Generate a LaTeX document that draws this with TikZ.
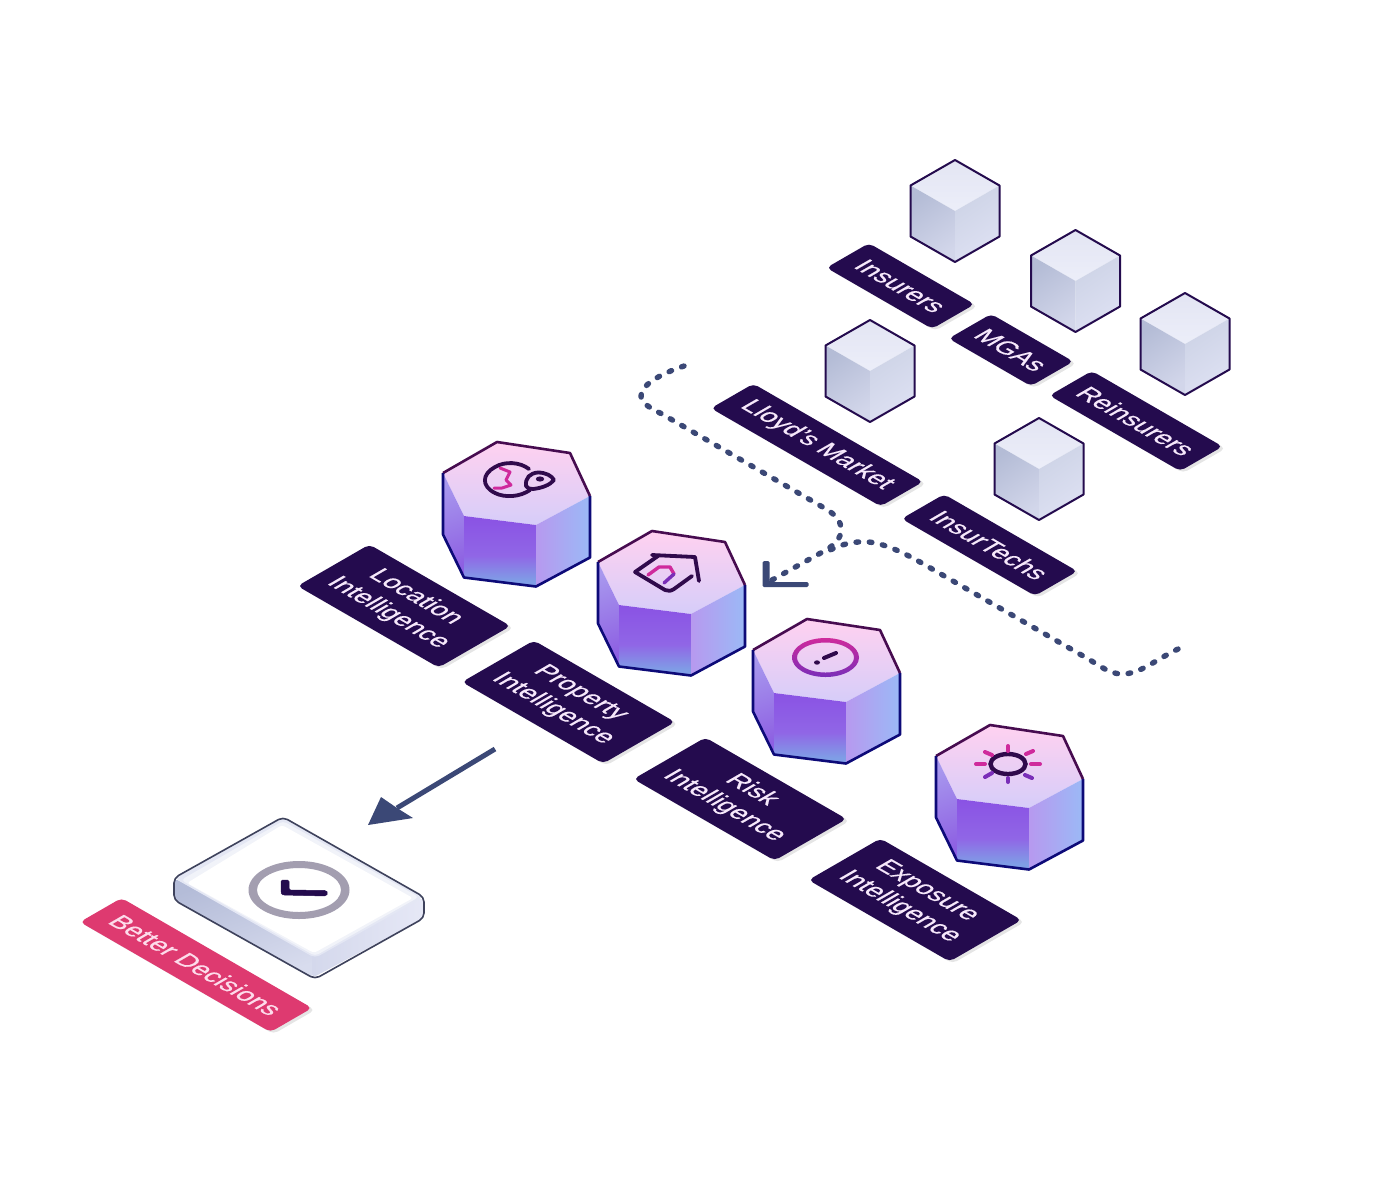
\documentclass[tikz,border=0pt]{standalone}
\usepackage{fontspec}
\setmainfont[FakeBold=0.35]{Liberation Sans}
\usetikzlibrary{arrows.meta,shadows,calc}
\definecolor{labelink}{HTML}{240B4E}
\definecolor{labeltext}{HTML}{F6E8FB}
\definecolor{flowblue}{HTML}{3B4876}
\definecolor{iconink}{HTML}{300A4C}
\definecolor{iconpink}{HTML}{CF2A9C}
\definecolor{iconviolet}{HTML}{7A2EB8}
\definecolor{decisionpink}{HTML}{DE3A70}
\definecolor{decisiontext}{HTML}{FDDCEB}
\definecolor{E1}{HTML}{E3E5F3}\definecolor{E2}{HTML}{ECEEF9}
\definecolor{L1}{HTML}{B4BCD6}\definecolor{L2}{HTML}{D2D6EA}
\definecolor{R1}{HTML}{CDD3E6}\definecolor{R2}{HTML}{DEE1F3}
\definecolor{PT1}{HTML}{FFD1F0}\definecolor{PT2}{HTML}{D6CDF9}
\definecolor{PL1}{HTML}{A898EE}\definecolor{PL2}{HTML}{8D5FE2}
\definecolor{PC1}{HTML}{8A52E4}\definecolor{PC2}{HTML}{9066E6}\definecolor{PC3}{HTML}{7F9EE6}
\definecolor{PR1}{HTML}{B799EF}\definecolor{PR2}{HTML}{9BB9F6}
\definecolor{PE1}{HTML}{470C50}\definecolor{PE2}{HTML}{0D0A78}
\definecolor{PLa}{HTML}{B4BCD8}\definecolor{PLb}{HTML}{D8DCEE}
\definecolor{PRa}{HTML}{D4D8EC}\definecolor{PRb}{HTML}{E6E8F6}
\definecolor{plateline}{HTML}{3E425C}\definecolor{plateface}{HTML}{E4E7F4}
\definecolor{clockrim}{HTML}{A39EB0}
\pgfdeclareverticalshading{prismfront}{100bp}{color(0bp)=(PC3); color(29bp)=(PC3); color(47bp)=(PC2); color(75bp)=(PC1); color(100bp)=(PC1)}
\tikzset{
  x=1pt, y=-1pt,
  isolabel/.style={
    cm={0.866,-0.5,0.866,0.5,(0,0)}, transform shape,
    rectangle, rounded corners=5pt, fill=labelink, text=labeltext,
    inner sep=0pt, align=center,
    font=\fontsize{25.8}{31.5}\selectfont,
    general shadow={shadow xshift=3pt, shadow yshift=-2pt, fill=black, opacity=.10}
  },
  oneline/.style={minimum height=49pt},
  twoline/.style={minimum width=163pt, minimum height=83pt},
  pinklabel/.style={fill=decisionpink, text=decisiontext},
  cubeline/.style={draw=labelink, line width=2pt, line join=round},
  flowdots/.style={draw=flowblue, line width=5.4pt, line cap=round, dash pattern=on 2.6pt off 10.7pt},
  iconline/.style={draw=iconink, line width=3.8pt, line cap=round, line join=round},
  ray/.style={line width=4pt, line cap=round}
}
% one line of a two-line label, nudged to sit optically centred
\newcommand{\nudged}[1]{\hspace*{-4.6pt}\raisebox{-2.3pt}{#1}}

% small white-blue cube, given by its centre
\newcommand{\stockcube}[2]{%
  \begin{scope}[shift={(#1,#2)}]
    \shade[top color=E1,bottom color=E2] (0,-51) -- (44.5,-25.5) -- (0,0) -- (-44.5,-25.5) -- cycle;
    \shade[left color=L1,right color=L2,shading angle=35] (-44.5,-25.5) -- (0,0) -- (0,51) -- (-44.5,25.5) -- cycle;
    \shade[left color=R1,right color=R2,shading angle=35] (44.5,-25.5) -- (0,0) -- (0,51) -- (44.5,25.5) -- cycle;
    \draw[cubeline] (0,-51) -- (44.5,-25.5) -- (44.5,25.5) -- (0,51) -- (-44.5,25.5) -- (-44.5,-25.5) -- cycle;
  \end{scope}}

% violet hexagonal prism, given by the top-left corner of its lid
\newcommand{\hexprism}[2]{%
  \begin{scope}[shift={(#1,#2)}]
    \shade[top color=PT1,bottom color=PT2] (0,0) -- (73,11) -- (93,54) -- (39,83) -- (-33,74) -- (-54,31) -- cycle;
    \shade[left color=PL1,right color=PL2,shading angle=20] (-54,31) -- (-33,74) -- (-33,135.5) -- (-54,92.5) -- cycle;
    \shade[shading=prismfront] (-33,74) -- (39,83) -- (39,144.5) -- (-33,135.5) -- cycle;
    \shade[left color=PR1,right color=PR2] (39,83) -- (93,54) -- (93,115.5) -- (39,144.5) -- cycle;
    \draw[draw=PE1,line width=2.6pt,line join=round] (-54,31) -- (0,0) -- (73,11) -- (93,54);
    \draw[draw=PE2,line width=2.6pt,line join=round] (93,54) -- (93,115.5) -- (39,144.5) -- (-33,135.5) -- (-54,92.5) -- (-54,31);
  \end{scope}}

\begin{document}
\begin{tikzpicture}
\useasboundingbox (0,0) rectangle (1388,1200);
\fill[white] (0,0) rectangle (1388,1200);

% participants
\stockcube{955}{211}
\stockcube{1075.5}{281}
\stockcube{1185}{344}
\stockcube{870}{371}
\stockcube{1039}{469}

\node[isolabel,oneline,minimum width=122pt] (insurers) at (900.5,286) {Insurers};
\node[isolabel,oneline,minimum width=95pt] (mgas) at (1011,350) {MGAs};
\node[isolabel,oneline,minimum width=151pt] (reinsurers) at (1136,421) {Reinsurers};
\node[isolabel,oneline,minimum width=196pt] (lloyds) at (817,445) {Lloyd's Market};
\node[isolabel,oneline,minimum width=154pt] (insurtechs) at (989.5,545) {InsurTechs};

% dotted flows merging into the open arrow head
\coordinate (flowtip) at (772,580);
\coordinate (startleft) at (684,366);
\coordinate (startright) at (1178,649);
\draw[flowdots] (startleft) .. controls (660,374) and (641,385) .. (641,396)
  .. controls (641,403) and (650,408) .. (662,414)
  -- (826,509) .. controls (838,516) and (842,524) .. (841,532)
  .. controls (839,542) and (832,546) .. (826,550) -- (flowtip);
\draw[flowdots] (startright) .. controls (1155,660) and (1140,674) .. (1122,674)
  .. controls (1110,674) and (1100,666) .. (1090,660)
  -- (920,562) .. controls (895,548) and (875,540) .. (858,542)
  .. controls (846,543) and (838,546) .. (826,552);
\fill[flowblue,rounded corners=1.5pt] (762.5,561) -- (769.5,561) -- (769.5,582) -- (808.5,582)
  -- (808.5,587) -- (762.5,587) -- cycle;

% intelligence blocks
\hexprism{497}{442}
\hexprism{652}{531}
\hexprism{807}{619}
\hexprism{990}{725}

% globe with a location pin
\draw[iconline] (529,469) .. controls (520,462) and (505,461) .. (495,467)
  .. controls (482,474) and (481,486) .. (495,493)
  .. controls (505,498) and (520,497) .. (530,490);
\draw[draw=iconpink,line width=3pt,line join=round,line cap=round]
  (500,468) -- (510,472) -- (506,480) -- (511,485) -- (502,488) -- (494,488);
\draw[iconline,fill=PT1!55!PT2] (526,486) .. controls (525,478) and (530,473) .. (538,472.5)
  .. controls (546,472.5) and (552,476) .. (554,480)
  .. controls (550,485) and (542,488) .. (533,489)
  .. controls (530,489.5) and (527,488) .. (526,486) -- cycle;
\fill[iconink] (540,479) ellipse [x radius=4.2, y radius=2.6];

% house
\draw[draw=iconpink,line width=3.4pt,line join=round,line cap=round]
  (648,575) -- (659,567) -- (670,567) -- (674,574);
\draw[draw=iconviolet,line width=3.4pt,line cap=round] (674,574) -- (664,583);
\draw[iconline] (652,555) -- (695,557) -- (699,581);
\draw[iconline] (658,556) -- (635,572) -- (665,590) .. controls (668,591.5) and (671,591) .. (674,589) -- (692,576);

% warning
\path[shade,top color=iconpink,bottom color=iconviolet,even odd rule]
  (825.5,657.5) ellipse [x radius=33.5, y radius=19.5]
  (825.5,657.5) ellipse [x radius=28.5, y radius=15];
\draw[draw=iconink,line width=4pt,line cap=round] (824,658) -- (836,653);
\fill[iconink] (817,662.5) ellipse [x radius=3, y radius=2.2];

% sun
\draw[draw=iconink,line width=4.4pt] (1008,764) ellipse [x radius=17.5, y radius=10];
\foreach \ax/\ay/\bx/\by/\tone in {1008/746/1008/751/iconpink,1026/754/1033/751/iconpink,1031/764/1040/764/iconpink,
  985/752/992/755/iconpink,976/764/985/764/iconpink,
  1025/775/1032/778/iconviolet,1008/778/1008/782/iconviolet,985/777/992/773/iconviolet}
  \draw[ray,draw=\tone] (\ax,\ay) -- (\bx,\by);

\node[isolabel,twoline] (location) at (404,606) {\nudged{Location}\\\nudged{Intelligence}};
\node[isolabel,twoline] (property) at (568.5,702) {\nudged{Property}\\\nudged{Intelligence}};
\node[isolabel,twoline] (risk) at (740,799) {\nudged{Risk}\\\nudged{Intelligence}};
\node[isolabel,twoline] (exposure) at (915,900) {\nudged{Exposure}\\\nudged{Intelligence}};

% outcome arrow
\coordinate (outfrom) at (495,749);
\coordinate (outneck) at (397,808);
\draw[draw=flowblue,line width=5pt] (outfrom) -- (outneck);
\fill[flowblue] (368,825) -- (381,797) -- (397,808) -- (413,818) -- cycle;

% outcome plate
\shade[left color=PLa,right color=PLb,shading angle=20,rounded corners=4pt]
  (174,878) -- (174,900) -- (312,978) -- (318,955) -- cycle;
\shade[left color=PRa,right color=PRb,rounded corners=4pt]
  (312,955) -- (312,978) -- (424,918) -- (424,897) -- cycle;
\fill[plateface,rounded corners=5pt] (283,817) -- (424,897) -- (315,958) -- (174,878) -- cycle;
\fill[plateface!50!white,rounded corners=4pt] (283,821) -- (419,897) -- (315,956) -- (181,880) -- cycle;
\fill[white,rounded corners=3pt] (282,825) -- (413,898) -- (314,953) -- (187,883) -- cycle;
\draw[draw=plateline,line width=1.6pt,rounded corners=5pt]
  (283,817) -- (424,897) -- (424,918) -- (315,979) -- (174,900) -- (174,878) -- cycle;
\path[fill=clockrim,even odd rule] (299,890) ellipse [x radius=50.5, y radius=29]
  (299,890) ellipse [x radius=42, y radius=22];
\fill[draw=labelink,fill=labelink,rounded corners=1.5pt,line width=.5pt]
  (281,880) -- (289,880) -- (289,890) -- (326,890.5) -- (328,893) -- (326,896) -- (283,895) -- (281,893) -- cycle;

\node[isolabel,oneline,pinklabel,minimum width=220pt,minimum height=48pt] (decisions) at (196,965) {Better Decisions};
\end{tikzpicture}
\end{document}
